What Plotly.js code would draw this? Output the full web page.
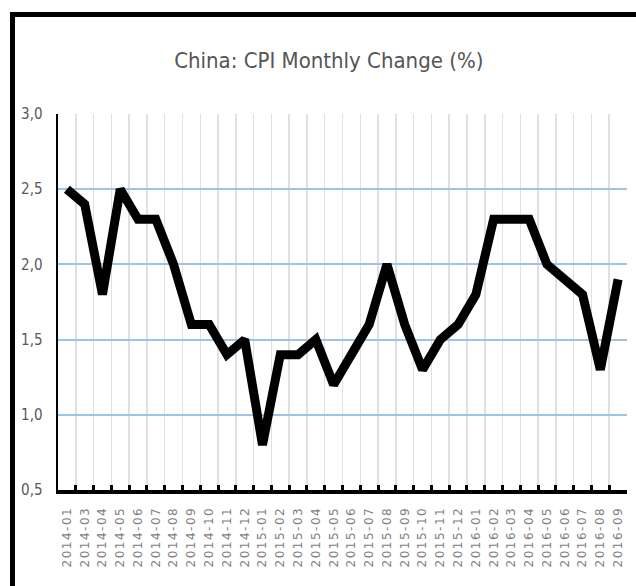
<!DOCTYPE html>
<html>
<head>
<meta charset="utf-8">
<script src="https://cdn.plot.ly/plotly-3.0.1.min.js"></script>
<style>
  html, body { margin: 0; padding: 0; background: #ffffff; }
  #wrap { position: relative; width: 636px; height: 586px; overflow: hidden; }
  #chart { position: absolute; left: 0; top: 0; width: 636px; height: 586px; }
  #frame { position: absolute; left: 10px; top: 12px; width: 640px; height: 600px;
           border-left: 5px solid #000; border-top: 5px solid #000; pointer-events: none; }
  .xtick text { letter-spacing: 1.5px; }
</style>
</head>
<body>
<div id="wrap">
  <div id="chart"></div>
  <div id="frame"></div>
</div>
<script>
// Months shown on the category axis (2014-02 is absent in the source chart)
const months = [
  "2014-01","2014-03","2014-04","2014-05","2014-06","2014-07","2014-08","2014-09","2014-10","2014-11","2014-12",
  "2015-01","2015-02","2015-03","2015-04","2015-05","2015-06","2015-07","2015-08","2015-09","2015-10","2015-11","2015-12",
  "2016-01","2016-02","2016-03","2016-04","2016-05","2016-06","2016-07","2016-08","2016-09"
];
// CPI change (%)
const cpiChange = [
  2.5, 2.4, 1.8, 2.5, 2.3, 2.3, 2.0, 1.6, 1.6, 1.4, 1.5,
  0.8, 1.4, 1.4, 1.5, 1.2, 1.4, 1.6, 2.0, 1.6, 1.3, 1.5, 1.6,
  1.8, 2.3, 2.3, 2.3, 2.0, 1.9, 1.8, 1.3, 1.9
];
const yTicks = [0.5, 1.0, 1.5, 2.0, 2.5, 3.0];
const chartTitle = "China: CPI Monthly Change (%)";

const trace = {
  type: "scatter",
  mode: "lines",
  x: months,
  y: cpiChange,
  line: { color: "#000000", width: 9 },
  hoverinfo: "skip"
};

const layout = {
  width: 636,
  height: 586,
  margin: { l: 58, r: 9, t: 114, b: 96 },
  paper_bgcolor: "#ffffff",
  plot_bgcolor: "#ffffff",
  separators: ",.",
  showlegend: false,
  hovermode: false,
  title: {
    text: chartTitle,
    font: { family: "DejaVu Sans Condensed, DejaVu Sans, sans-serif", size: 22, color: "#555555" },
    xref: "container", x: 0.517, xanchor: "center",
    yref: "container", y: 1 - 60 / 586, yanchor: "middle"
  },
  xaxis: {
    type: "category",
    range: [-0.5, months.length - 0.5],
    tickson: "boundaries",
    ticks: "inside",
    ticklen: 5,
    tickwidth: 3,
    tickcolor: "#000000",
    showline: true,
    linecolor: "#000000",
    linewidth: 4,
    showgrid: true,
    gridcolor: "#e0e0e0",
    gridwidth: 1.5,
    tickangle: -90,
    tickfont: { family: "DejaVu Sans, sans-serif", size: 12, color: "#808080" },
    ticklabelstandoff: 8,
    zeroline: false,
    fixedrange: true
  },
  yaxis: {
    range: [0.5, 3.0],
    tickvals: yTicks,
    tickformat: ".1f",
    ticks: "",
    showline: true,
    linecolor: "#000000",
    linewidth: 2.5,
    showgrid: true,
    gridcolor: "#9dc3e6",
    gridwidth: 2,
    zeroline: false,
    tickfont: { family: "DejaVu Sans Condensed, DejaVu Sans, sans-serif", size: 15, color: "#595959" },
    ticklabelstandoff: 10,
    fixedrange: true
  }
};

Plotly.newPlot("chart", [trace], layout, { displayModeBar: false, staticPlot: true });
</script>
</body>
</html>
